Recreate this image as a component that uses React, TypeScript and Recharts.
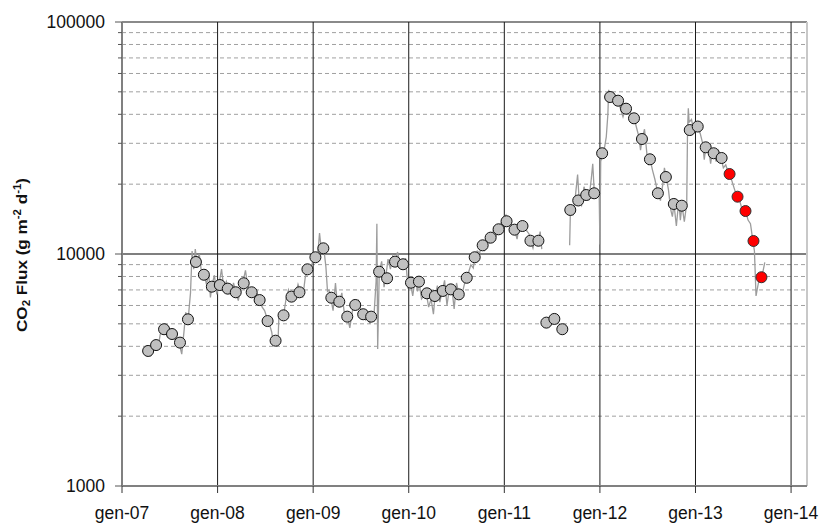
import React from 'react';
import { ComposedChart, Line, Scatter, XAxis, YAxis, ReferenceLine } from 'recharts';

// months counted from Jan 2007; monthly samples taken around the 9th
const FIRST_MONTH = 3;
const SAMPLE_OFFSET = 0.28;

const grayFlux = [
  3820, 4050, 4740, 4520, 4150, 5230, 9240, 8140, 7230, 7350, 7090, 6840, 7480, 6840, 6330, 5140, 4230, 5440, 6550, 6840, 8590,
  9680, 10580, 6480, 6230, 5370, 6030, 5500, 5370, 8390, 7860, 9270, 9030, 7520, 7600, 6770, 6590, 6930, 7040, 6700, 7900, 9680,
  10900, 11760, 12780, 13840, 12730, 13200, 11410, 11410, 5060, 5250, 4740, 15480, 17010, 17960, 18270,
  27180, 47500, 45790, 42300, 38450, 31310, 25600, 18270, 21470, 16430, 16150, 34220, 35430, 28830, 27180, 25930,
];
const redFlux = [22120, 17660, 15320, 11380, 7940];

const daily2007to2011: [number, number][] = [
  [3.0, 3900], [3.3, 3800], [3.6, 3650], [3.9, 4000], [4.2, 4200], [4.5, 3900], [4.8, 4500], [5.1, 4900], [5.4, 4700],
  [5.7, 4400], [6.0, 4650], [6.3, 4500], [6.6, 4300], [6.9, 4250], [7.2, 4100], [7.5, 3700], [7.8, 4700], [8.0, 5600],
  [8.3, 5200], [8.6, 6800], [8.8, 10300], [9.0, 8600], [9.2, 10500], [9.4, 9200], [9.7, 10000], [10.0, 8200], [10.3, 8300],
  [10.6, 7400], [10.9, 8200], [11.1, 6500], [11.3, 7300], [11.6, 8100], [11.9, 6700], [12.2, 7500], [12.5, 8600], [12.8, 7000],
  [13.1, 7600], [13.4, 7000], [13.7, 6700], [14.0, 7500], [14.3, 6800], [14.6, 6300], [14.9, 7200], [15.2, 7600], [15.5, 8500],
  [15.8, 7200], [16.1, 6600], [16.4, 6900], [16.7, 6400], [17.0, 6700], [17.3, 6300], [17.6, 5900], [17.9, 5700], [18.2, 5300],
  [18.5, 5000], [18.8, 4600], [19.0, 4100], [19.3, 4200], [19.6, 4300], [19.7, 5400], [20.0, 5300], [20.3, 5500], [20.6, 6400],
  [20.9, 7000], [21.2, 6500], [21.5, 6300], [21.8, 6700], [22.1, 7400], [22.4, 6900], [22.7, 6500], [23.0, 7900], [23.3, 8600],
  [23.6, 8300], [23.9, 9200], [24.3, 9700], [24.6, 10200], [24.8, 12300], [25.0, 10600], [25.3, 10800], [25.6, 8800],
  [25.8, 6900], [26.0, 7000], [26.2, 6500], [26.5, 5700], [26.8, 7500], [27.0, 6300], [27.3, 6200], [27.6, 6800], [27.9, 5600],
  [28.1, 5200], [28.3, 5400], [28.6, 4800], [28.9, 5600], [29.1, 6200], [29.4, 6000], [29.7, 6300], [30.0, 5700], [30.3, 5500],
  [30.6, 5200], [30.9, 5500], [31.1, 5000], [31.3, 5400], [31.6, 5200], [31.9, 7600], [32.0, 13500], [32.1, 3900], [32.3, 8400],
  [32.6, 9300], [32.9, 7200], [33.1, 7900], [33.4, 9500], [33.7, 8600], [34.0, 9800], [34.3, 9300], [34.6, 10200], [34.9, 9000],
  [35.3, 9000], [35.6, 9600], [35.9, 7200], [36.2, 7500], [36.5, 6600], [36.8, 7800], [37.1, 6900], [37.3, 7600], [37.6, 6400],
  [37.9, 6600], [38.2, 6800], [38.5, 5900], [38.8, 6400], [39.1, 5500], [39.3, 6600], [39.6, 7300], [39.9, 6200], [40.2, 6900],
  [40.5, 7700], [40.8, 6000], [41.1, 7100], [41.4, 7200], [41.7, 5800], [42.0, 7500], [42.3, 6700], [42.6, 6500], [42.9, 7200],
  [43.2, 7900], [43.5, 8300], [43.8, 9000], [44.1, 8700], [44.3, 9700], [44.6, 10300], [44.9, 10100], [45.2, 10900],
  [45.5, 10400], [45.8, 11800], [46.1, 11200], [46.4, 11800], [46.7, 12900], [47.0, 12000], [47.3, 12800], [47.6, 13600],
  [47.9, 14200], [48.2, 14700], [48.5, 13300], [48.8, 13900], [49.1, 12400], [49.3, 12700], [49.6, 11600], [49.9, 13400],
  [50.2, 13200], [50.5, 13600], [50.8, 12600], [51.1, 12200], [51.3, 11400], [51.6, 10600], [51.9, 11700], [52.2, 11000],
  [52.5, 12500], [52.7, 10500],
];

const daily2011to2013: [number, number][] = [
  [56.2, 10900], [56.3, 15500], [56.6, 14800], [56.9, 17500], [57.2, 22000], [57.4, 17000], [57.7, 16200], [58.0, 19500],
  [58.3, 18000], [58.6, 17200], [58.9, 20800], [59.1, 24500], [59.3, 18300], [59.6, 17500], [59.9, 19000], [60.0, 11000],
  [60.1, 25000], [60.35, 27200], [60.6, 29000], [60.8, 32000], [61.0, 40000], [61.1, 51000], [61.3, 47500], [61.6, 49000],
  [62.0, 45000], [62.3, 45800], [62.6, 42000], [62.9, 39000], [63.2, 42300], [63.5, 40500], [63.8, 41500], [64.1, 37000],
  [64.3, 38500], [64.6, 35000], [64.9, 32000], [65.1, 28000], [65.3, 31300], [65.6, 34500], [65.9, 27000], [66.1, 24500],
  [66.3, 25600], [66.6, 23000], [66.9, 21000], [67.1, 19500], [67.3, 18300], [67.6, 17000], [67.9, 20000], [68.1, 23500],
  [68.3, 21500], [68.6, 19000], [68.9, 15500], [69.1, 14500], [69.3, 16400], [69.6, 13200], [69.9, 17000], [70.1, 14000],
  [70.3, 16200], [70.6, 13800], [70.9, 16500], [71.0, 34000], [71.1, 42500], [71.2, 37000], [71.5, 38000], [71.8, 33500],
  [72.1, 36500], [72.3, 35400], [72.6, 33000], [72.9, 30000], [73.1, 25500], [73.3, 28800], [73.6, 29500], [73.9, 24500],
  [74.1, 27500], [74.3, 27200], [74.6, 25000], [74.9, 27800], [75.2, 25900], [75.5, 23500], [75.8, 24200], [76.1, 22500],
  [76.3, 22100], [76.6, 20500], [76.9, 19000], [77.2, 17700], [77.5, 17200], [77.8, 15800], [78.1, 16000], [78.3, 15300],
  [78.6, 14000], [78.9, 13500], [79.0, 12800], [79.2, 11400], [79.4, 10300], [79.6, 6600], [79.9, 7500], [80.2, 7900],
  [80.5, 8500], [80.7, 9200],
];

const yearLabels = ['gen-07', 'gen-08', 'gen-09', 'gen-10', 'gen-11', 'gen-12', 'gen-13', 'gen-14'];
const yearTicks = yearLabels.map((_, i) => i * 12);
const majorY = [1000, 10000, 100000];
const minorY = [2000, 3000, 4000, 5000, 6000, 7000, 8000, 9000, 20000, 30000, 40000, 50000, 60000, 70000, 80000, 90000];

const FONT = '"Liberation Sans", Arial, sans-serif';

const toPoints = (list: [number, number][]) => list.map(([m, v]) => ({ m, v }));
const grayPts = grayFlux.map((v, i) => ({ m: FIRST_MONTH + i + SAMPLE_OFFSET, v }));
const redPts = redFlux.map((v, i) => ({ m: FIRST_MONTH + grayFlux.length + i + SAMPLE_OFFSET, v }));

const YTick = (props: any) => {
  const { x, y, payload } = props;
  const major = majorY.includes(payload.value);
  return (
    <g>
      <line x1={x - (major ? 7 : 4)} x2={x} y1={y} y2={y} stroke="#555" strokeWidth={1} />
      {major && (
        <text x={x - 17} y={y} dy="0.36em" textAnchor="end" fontSize={17.5} fontFamily={FONT} fill="#111">
          {payload.value}
        </text>
      )}
    </g>
  );
};

const XTick = (props: any) => {
  const { x, y, payload, index } = props;
  return (
    <g>
      <line x1={x} x2={x} y1={y} y2={y + 7} stroke="#333" strokeWidth={1} />
      <text x={x} y={y + 27} dy="0.36em" textAnchor="middle" fontSize={17.5} fontFamily={FONT} fill="#111">
        {yearLabels[index] ?? ''}
      </text>
    </g>
  );
};

const AxisTitle = () => (
  <text
    transform="translate(27,255) rotate(-90)"
    textAnchor="middle"
    fontSize={15}
    fontWeight="bold"
    fontFamily={FONT}
    fill="#111"
    textLength={154}
    lengthAdjust="spacingAndGlyphs"
  >
    CO<tspan fontSize={10} dy={3}>2</tspan>
    <tspan dy={-3}> Flux (g m</tspan>
    <tspan fontSize={10} dy={-6}>-2</tspan>
    <tspan dy={6}> d</tspan>
    <tspan fontSize={10} dy={-6}>-1</tspan>
    <tspan dy={6}>)</tspan>
  </text>
);

const grayDot = (p: any) => <circle cx={p.cx} cy={p.cy} r={5.5} fill="#c0c0c0" stroke="#111" strokeWidth={1} />;
const redDot = (p: any) => <circle cx={p.cx} cy={p.cy} r={5.5} fill="#ff0000" stroke="#333" strokeWidth={1} />;

export default function App() {
  return (
    <div style={{ position: 'absolute', left: 0, top: 0, width: 822, height: 524, background: '#fff' }}>
      <ComposedChart width={822} height={524} margin={{ top: 22, right: 15, bottom: 0, left: 0 }}>
        <XAxis
          type="number"
          dataKey="m"
          domain={[0, 86]}
          allowDataOverflow
          ticks={yearTicks}
          interval={0}
          tickSize={0}
          tickMargin={0}
          tick={<XTick />}
          height={38}
          axisLine={{ stroke: '#808080', strokeWidth: 2 }}
          tickLine={false}
        />
        <YAxis
          type="number"
          dataKey="v"
          scale="log"
          domain={[1000, 100000]}
          allowDataOverflow
          ticks={[...majorY, ...minorY]}
          interval={0}
          tickSize={0}
          tickMargin={0}
          tick={<YTick />}
          width={122}
          axisLine={{ stroke: '#808080', strokeWidth: 2 }}
          tickLine={false}
          label={{ content: () => <AxisTitle /> }}
        />
        {minorY.map((v) => (
          <ReferenceLine key={`h${v}`} y={v} stroke="#a0a0a0" strokeDasharray="4 3" strokeWidth={1} />
        ))}
        <ReferenceLine y={10000} stroke="#555" strokeWidth={1.5} />
        <ReferenceLine y={100000} stroke="#8a8a8a" strokeWidth={2} />
        {yearTicks.slice(1).map((m) => (
          <ReferenceLine key={`v${m}`} x={m} stroke="#1a1a1a" strokeWidth={1} />
        ))}
        <ReferenceLine x={86} stroke="#c8c8c8" strokeWidth={2} />
        <Line data={toPoints(daily2007to2011)} dataKey="v" type="linear" stroke="#9c9c9c" strokeWidth={1.3} dot={false} isAnimationActive={false} />
        <Line data={toPoints(daily2011to2013)} dataKey="v" type="linear" stroke="#9c9c9c" strokeWidth={1.3} dot={false} isAnimationActive={false} />
        <Scatter data={grayPts} dataKey="v" shape={grayDot} isAnimationActive={false} />
        <Scatter data={redPts} dataKey="v" shape={redDot} isAnimationActive={false} />
      </ComposedChart>
    </div>
  );
}
